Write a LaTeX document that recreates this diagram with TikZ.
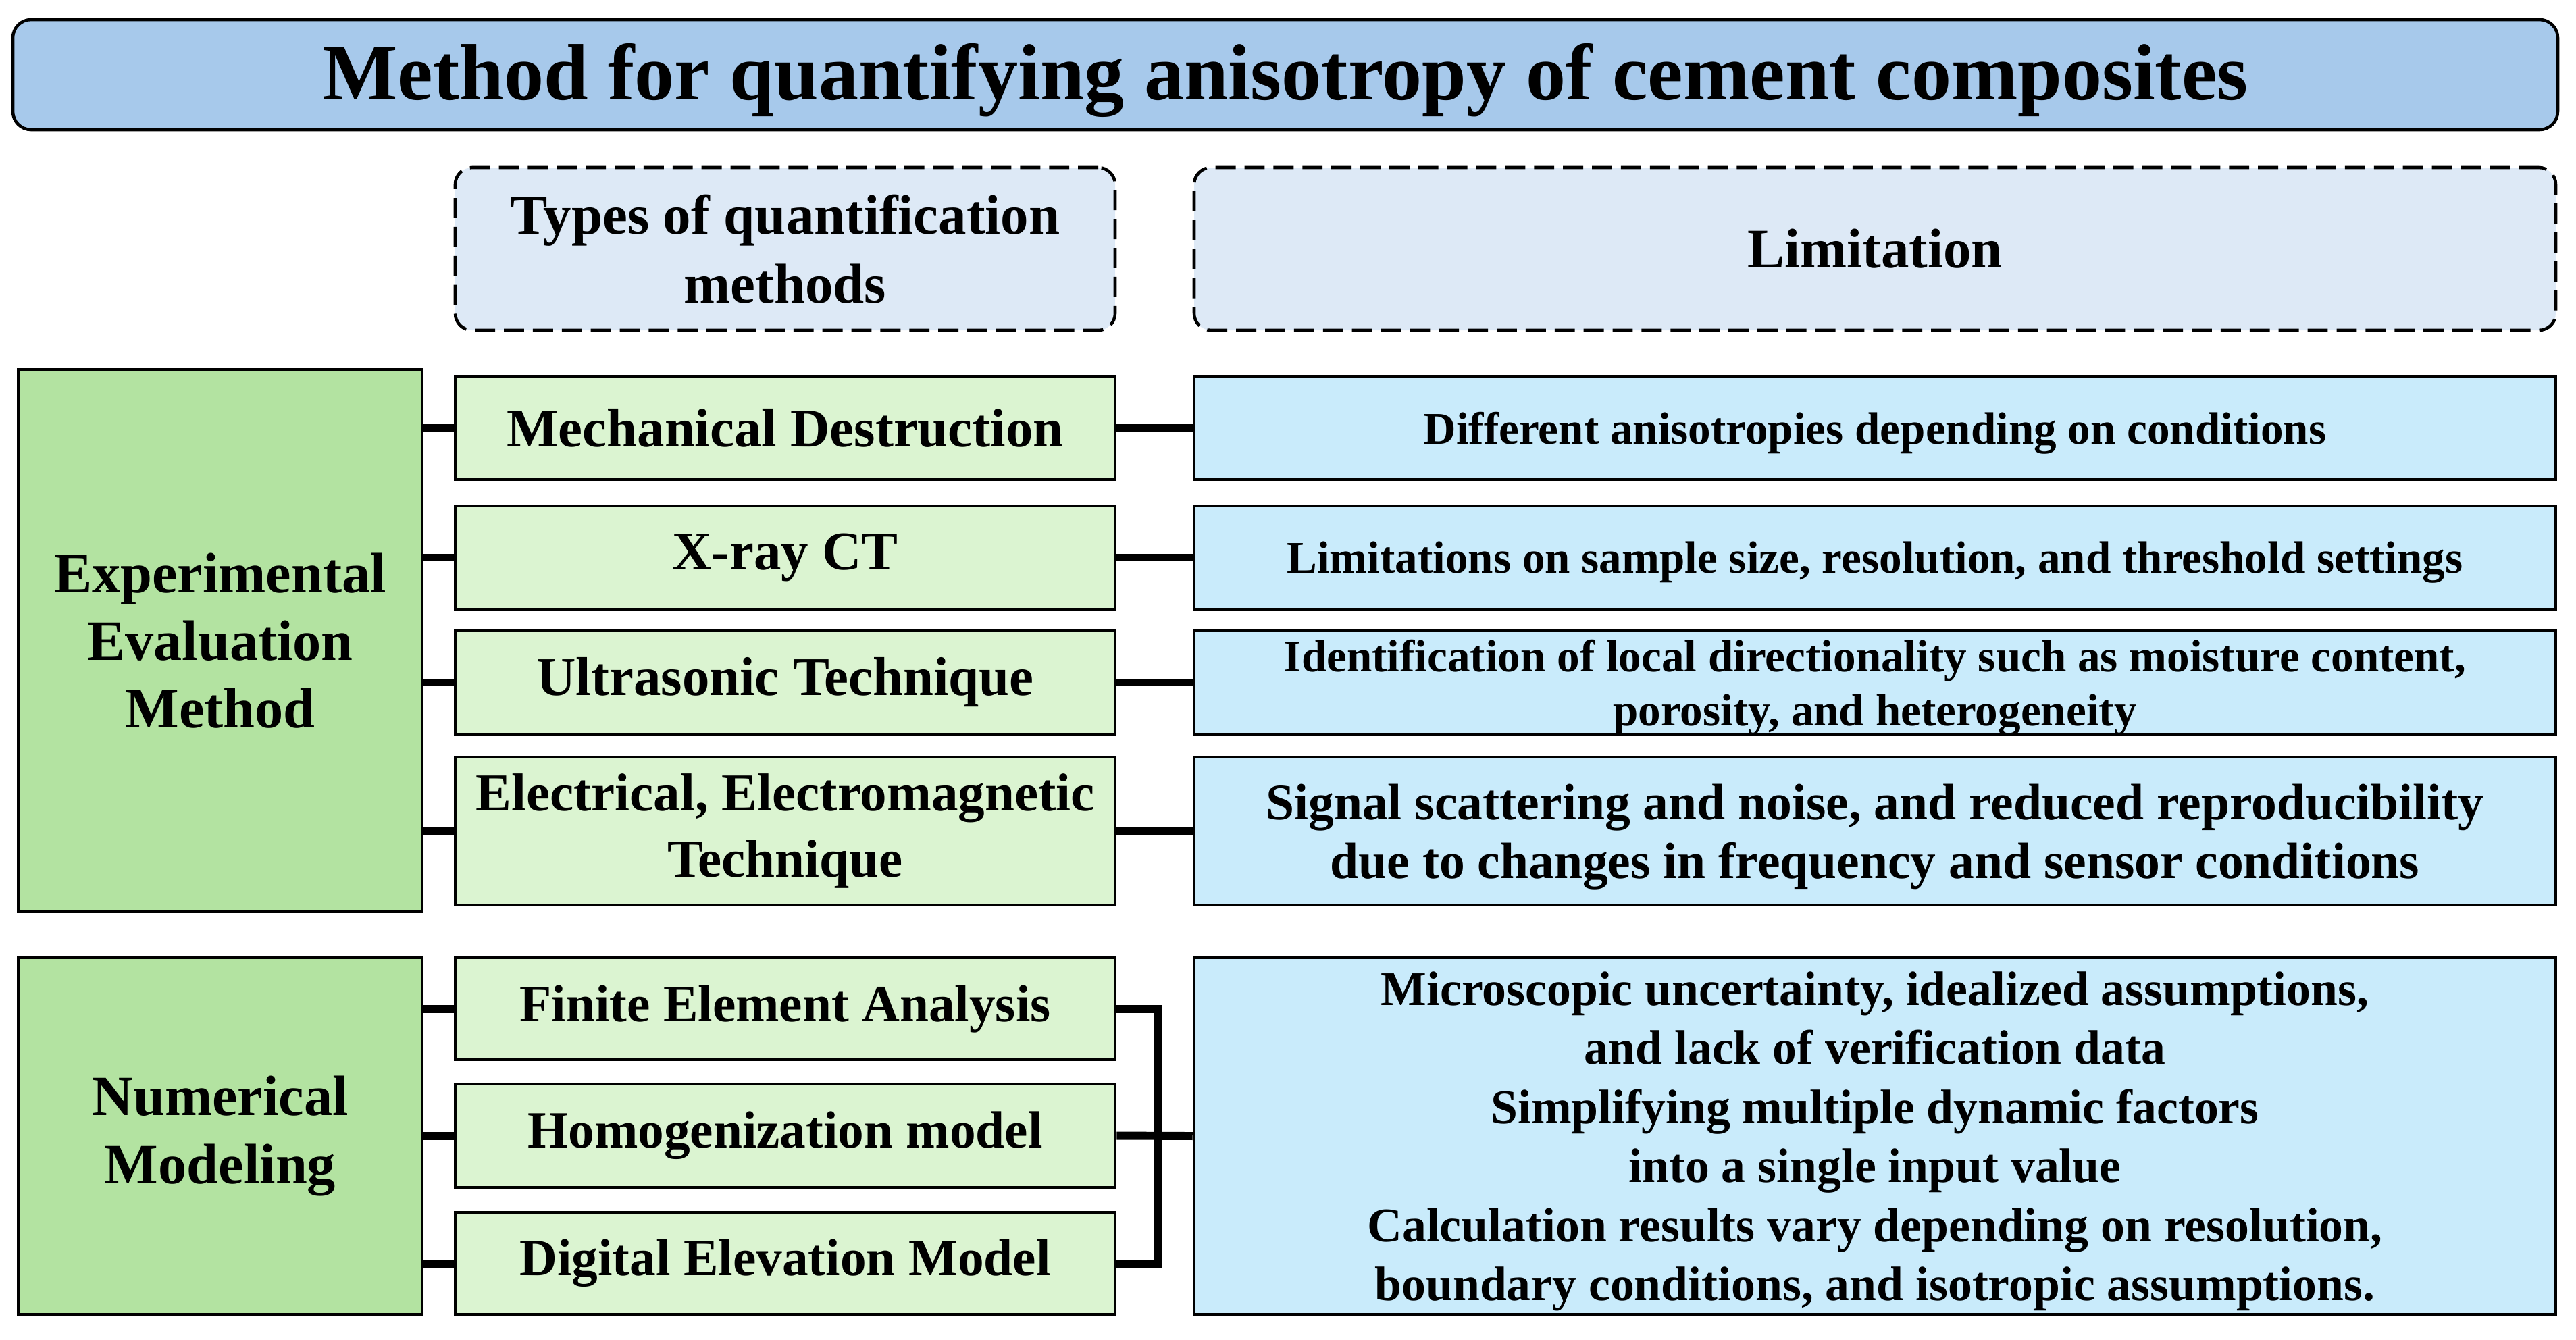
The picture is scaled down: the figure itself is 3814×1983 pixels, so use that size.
\documentclass[tikz,border=0pt]{standalone}
\usepackage{fontspec}
\setmainfont{Liberation Serif}
\usepackage{tikz}
\usepackage{xcolor}
\definecolor{titleblue}{HTML}{A7C9EB}
\definecolor{headblue}{HTML}{DDE9F6}
\definecolor{groupgreen}{HTML}{B3E3A1}
\definecolor{methodgreen}{HTML}{DBF4D1}
\definecolor{limitblue}{HTML}{C9EBFB}

\begin{document}
\begin{tikzpicture}[x=0.1mm,y=-0.1mm,
    box/.style={draw, line width=1.3pt, align=center, inner sep=0pt, font=\bfseries},
    lowtext/.style={execute at begin node={\rule{0pt}{#1}}},
    headbox/.style={box, dash pattern=on 8.5pt off 3.7pt, rounded corners=2.5mm, fill=headblue, minimum height=24.1mm},
    groupbox/.style={box, fill=groupgreen, minimum width=59.8mm},
    methodbox/.style={box, fill=methodgreen, minimum width=97.7mm, minimum height=15.3mm},
    limitbox/.style={box, text depth=-4pt, fill=limitblue, minimum width=201.6mm, minimum height=15.3mm},
    conn/.style={line width=3.4pt}]
    \useasboundingbox (0,0) rectangle (3814,1983);
    \node [box, lowtext=0.85em, fill=titleblue, rounded corners=2.7mm, minimum width=376.8mm, minimum height=16.3mm, font=\bfseries\fontsize{33.6}{40}\selectfont] (title) at (1903,110.5) {Method for quantifying anisotropy of cement composites};
    \node [headbox, minimum width=97.7mm, font=\bfseries\fontsize{23.6}{29}\selectfont] (types) at (1162.5,368.5) {Types of quantification\\methods};
    \node [headbox, minimum width=201.6mm, font=\bfseries\fontsize{23.6}{29}\selectfont] (limit) at (2776,368.5) {Limitation};

    \node [groupbox, minimum height=80.3mm, font=\bfseries\fontsize{24}{28.5}\selectfont] (exper) at (326,948.5) {Experimental\\Evaluation\\Method};
    \node [methodbox, font=\bfseries\fontsize{23}{28}\selectfont] (mech) at (1162.5,633.5) {Mechanical Destruction};
    \node [methodbox, font=\bfseries\fontsize{23}{28}\selectfont] (xray) at (1162.5,825.5) {X-ray CT};
    \node [methodbox, font=\bfseries\fontsize{23}{28}\selectfont] (ultra) at (1162.5,1010.5) {Ultrasonic Technique};
    \node [methodbox, minimum height=21.9mm, font=\bfseries\fontsize{22.5}{28}\selectfont] (elec) at (1162.5,1230.5) {Electrical, Electromagnetic\\Technique};
    \node [limitbox, font=\bfseries\fontsize{19.1}{23}\selectfont] (limA) at (2776,633.5) {Different anisotropies depending on conditions};
    \node [limitbox, font=\bfseries\fontsize{19.1}{23}\selectfont] (limB) at (2776,825.5) {Limitations on sample size, resolution, and threshold settings};
    \node [limitbox, font=\bfseries\fontsize{19.1}{22.8}\selectfont] (limC) at (2776,1010.5) {Identification of local directionality such as moisture content,\\porosity, and heterogeneity};
    \node [limitbox, minimum height=21.9mm, font=\bfseries\fontsize{21.5}{24.8}\selectfont] (limD) at (2776,1230.5) {Signal scattering and noise, and reduced reproducibility\\due to changes in frequency and sensor conditions};

    \node [groupbox, minimum height=52.8mm, font=\bfseries\fontsize{24}{29}\selectfont] (numer) at (326,1682) {Numerical\\Modeling};
    \node [methodbox, minimum height=15.1mm, font=\bfseries\fontsize{22}{27}\selectfont] (fea) at (1162.5,1493.5) {Finite Element Analysis};
    \node [methodbox, font=\bfseries\fontsize{22}{27}\selectfont] (homog) at (1162.5,1681.5) {Homogenization model};
    \node [methodbox, minimum height=15.1mm, font=\bfseries\fontsize{22}{27}\selectfont] (dem) at (1162.5,1870.5) {Digital Elevation Model};
    \node [limitbox, minimum height=52.8mm, font=\bfseries\fontsize{20.4}{24.9}\selectfont] (limE) at (2776,1682) {Microscopic uncertainty, idealized assumptions,\\and lack of verification data\\Simplifying multiple dynamic factors\\into a single input value\\Calculation results vary depending on resolution,\\boundary conditions, and isotropic assumptions.};

    \draw [conn] (mech.west) -- (mech.west -| exper.east);
    \draw [conn] (xray.west) -- (xray.west -| exper.east);
    \draw [conn] (ultra.west) -- (ultra.west -| exper.east);
    \draw [conn] (elec.west) -- (elec.west -| exper.east);
    \draw [conn] (mech.east) -- (limA.west);
    \draw [conn] (xray.east) -- (limB.west);
    \draw [conn] (ultra.east) -- (limC.west);
    \draw [conn] (elec.east) -- (limD.west);

    \draw [conn] (fea.west) -- (fea.west -| numer.east);
    \draw [conn] (homog.west) -- (homog.west -| numer.east);
    \draw [conn] (dem.west) -- (dem.west -| numer.east);
    \coordinate (bend) at (1715,0);
    \draw [conn, line join=miter] (fea.east) -- (fea.east -| bend) -- (dem.east -| bend) -- (dem.east);
    \draw [conn] (homog.east) -- (limE.west);
\end{tikzpicture}
\end{document}
